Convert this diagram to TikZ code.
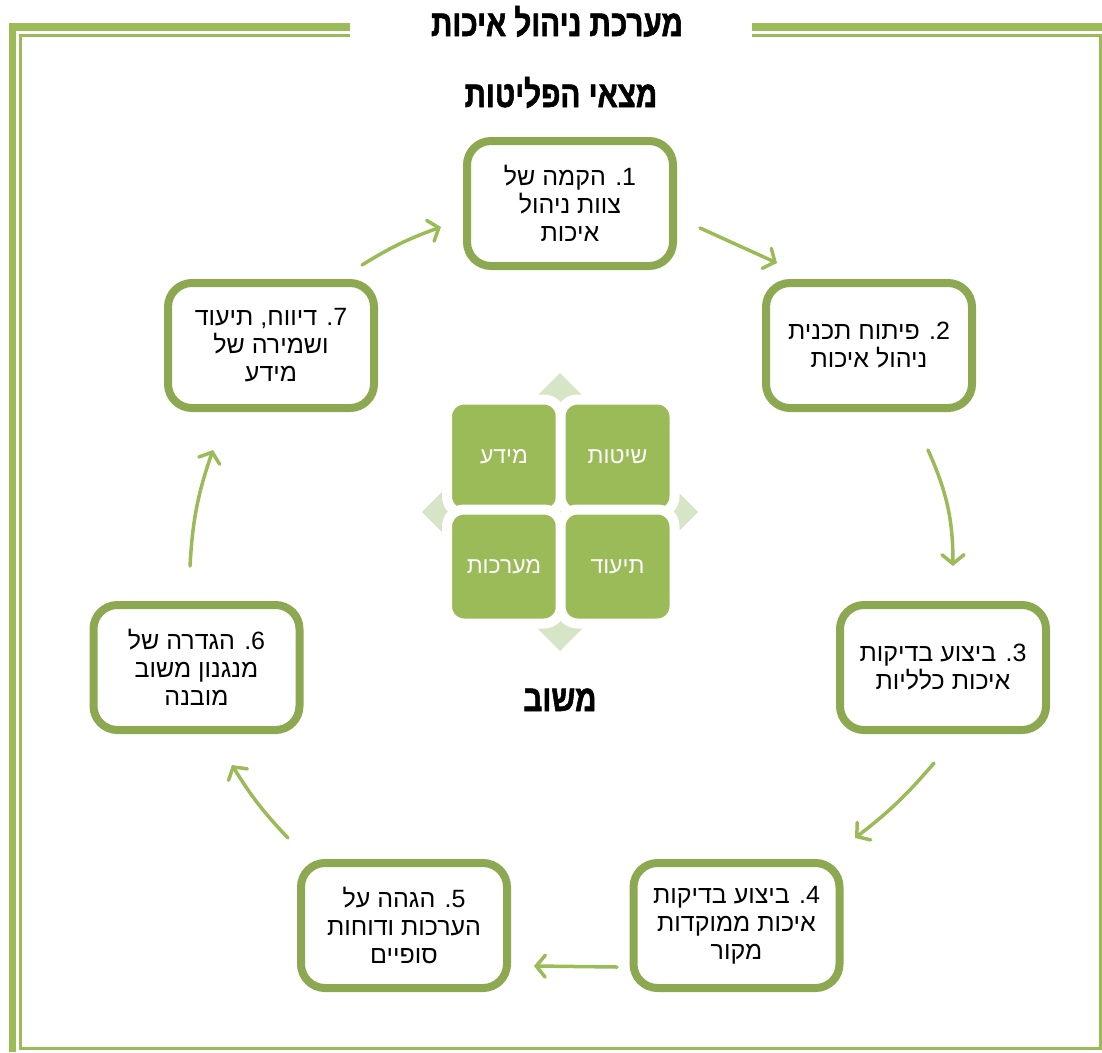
\documentclass[tikz,border=0pt]{standalone}
\usepackage{fontspec}
\usetikzlibrary{arrows.meta}
\newfontfamily\hebfont[Script=Hebrew]{Liberation Sans}
\newfontfamily\hebheavy[Script=Hebrew,FakeStretch=0.8,FakeBold=1.5]{Liberation Sans Bold}
\TeXXeTstate=1
\newcommand\rl[1]{\beginR#1\endR}
\definecolor{boxgreen}{RGB}{140,168,80}
\definecolor{arrgreen}{RGB}{155,187,89}
\definecolor{palegreen}{RGB}{216,228,198}
\begin{document}
\begin{tikzpicture}[x=1pt,y=-1pt,
        stepbox/.style={draw=boxgreen,line width=8pt,rounded corners=24pt,fill=white,
            minimum width=206pt,minimum height=125pt,inner sep=0pt,align=center,
            font=\hebfont\fontsize{25}{28}\selectfont},
        tile/.style={fill=arrgreen,draw=white,line width=10pt,rounded corners=17pt,
            minimum size=114pt,inner sep=0pt,text=white,
            font=\hebfont\fontsize{23}{25}\selectfont},
        flow/.style={arrgreen,line width=3.5pt,line cap=round,
            -{Straight Barb[length=9pt,width=22pt,line cap=round]}},
        heading/.style={anchor=base,font=\hebheavy\fontsize{37}{40}\selectfont}]
    \useasboundingbox (0,0) rectangle (1102,1052);
    % frame
    \fill[arrgreen] (9,23) rectangle (350,31);
    \fill[arrgreen] (752,23) rectangle (1102,31);
    \fill[arrgreen] (9,23) rectangle (16,1052);
    \draw[arrgreen,line width=3pt] (350,35.5) -- (20.5,35.5) -- (20.5,1048) -- (1100.5,1048) -- (1100.5,35.5) -- (752,35.5);
    \node[heading] (title) at (557,36) {\rl{מערכת ניהול איכות}};
    \node[heading] (inventory) at (561,107) {\rl{מצאי הפליטות}};
    \node[heading] (feedback) at (560,711) {\rl{משוב}};
    % steps
    \node[stepbox] (s1) at (570,203.5) {\rl{1. הקמה של}\\\rl{צוות ניהול}\\\rl{איכות}};
    \node[stepbox] (s2) at (869,345.5) {\rl{2. פיתוח תכנית}\\\rl{ניהול איכות}};
    \node[stepbox] (s3) at (943,667.5) {\rl{3. ביצוע בדיקות}\\\rl{איכות כלליות}};
    \node[stepbox] (s4) at (736.5,925.5) {\rl{4. ביצוע בדיקות}\\\rl{איכות ממוקדות}\\\rl{מקור}};
    \node[stepbox] (s5) at (404,925.5) {\rl{5. הגהה על}\\\rl{הערכות ודוחות}\\\rl{סופיים}};
    \node[stepbox] (s6) at (196.5,667.5) {\rl{6. הגדרה של}\\\rl{מנגנון משוב}\\\rl{מובנה}};
    \node[stepbox] (s7) at (271,345.5) {\rl{7. דיווח, תיעוד}\\\rl{ושמירה של}\\\rl{מידע}};
    % centre
    \fill[palegreen] (560,373) -- (698,512) -- (560,651) -- (422,512) -- cycle;
    \node[tile] (info) at (504,456.5) {\rl{מידע}};
    \node[tile] (methods) at (617.5,456.5) {\rl{שיטות}};
    \node[tile] (systems) at (504,566.5) {\rl{מערכות}};
    \node[tile] (records) at (617.5,566.5) {\rl{תיעוד}};
    % arrows
    \coordinate (f1a) at (700,228);  \coordinate (f1b) at (777,263);
    \coordinate (f2a) at (928,450);  \coordinate (f2b) at (953,566);
    \coordinate (f3a) at (934,763);  \coordinate (f3b) at (855,838);
    \coordinate (f4a) at (617,967);  \coordinate (f4b) at (534,966);
    \coordinate (f5a) at (288,838);  \coordinate (f5b) at (232,765);
    \coordinate (f6a) at (190,566);  \coordinate (f6b) at (213,450);
    \coordinate (f7a) at (362,265);  \coordinate (f7b) at (441,227);
    \draw[flow] (f1a) to (f1b);
    \draw[flow] (f2a) to[bend left=12] (f2b);
    \draw[flow] (f3a) to[bend left=6] (f3b);
    \draw[flow] (f4a) to (f4b);
    \draw[flow] (f5a) to[bend left=6] (f5b);
    \draw[flow] (f6a) to[bend left=8] (f6b);
    \draw[flow] (f7a) to[bend left=6] (f7b);
\end{tikzpicture}
\end{document}
